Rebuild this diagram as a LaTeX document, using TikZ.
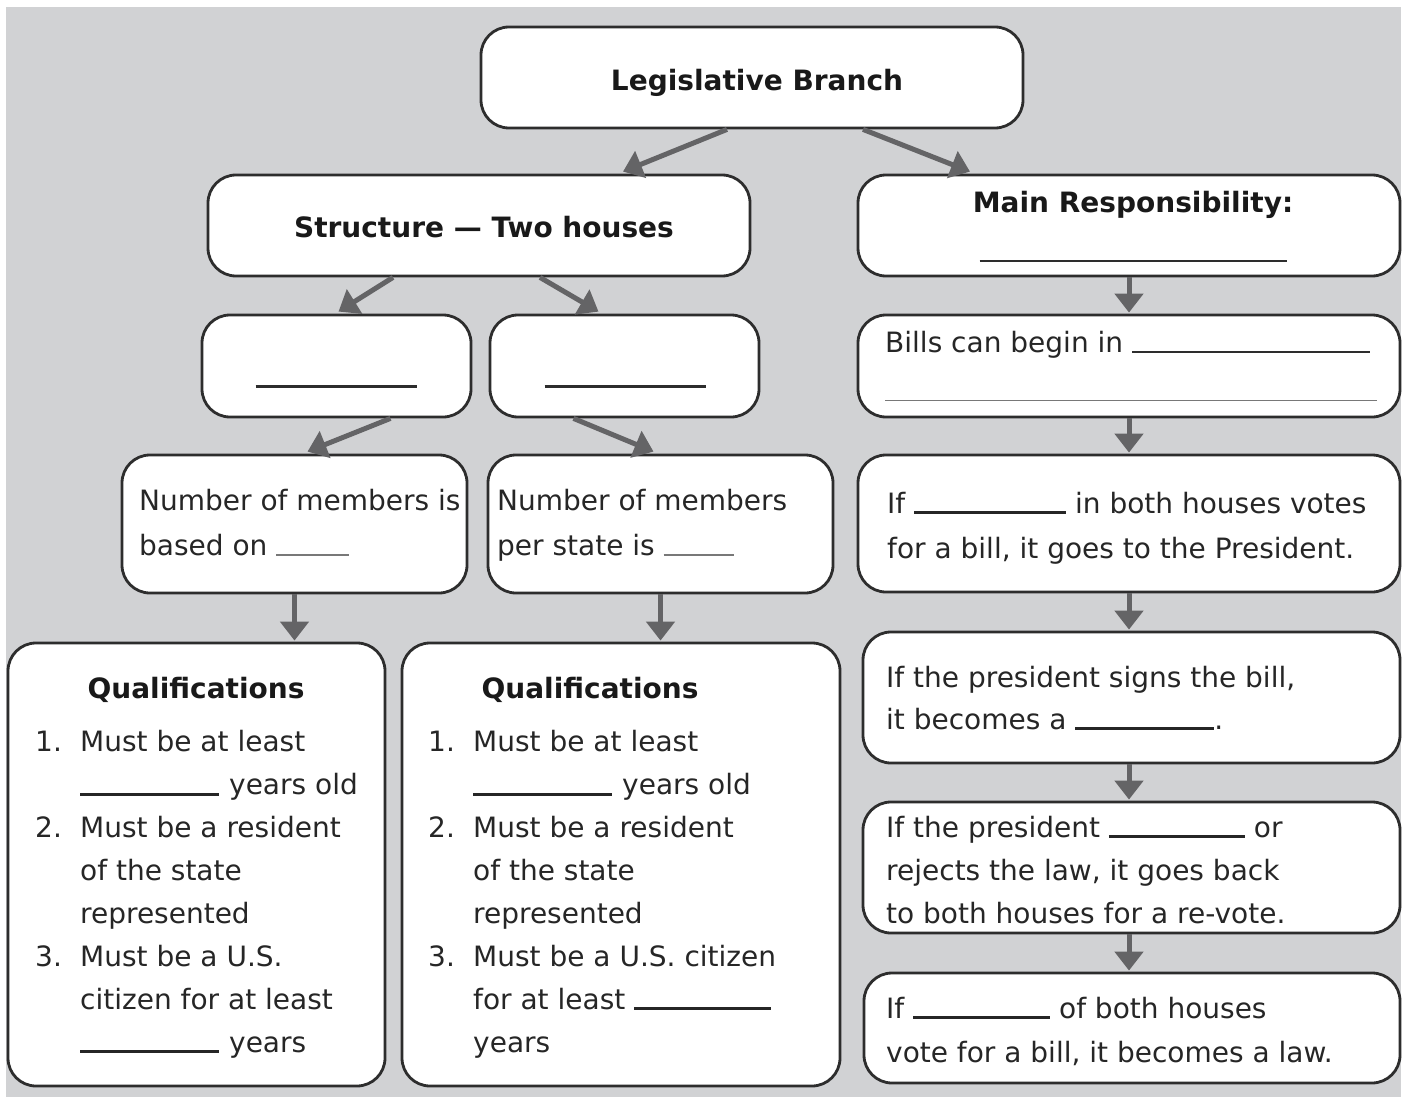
\documentclass[tikz,border=0pt]{standalone}
\usepackage{fontspec}
\setmainfont{DejaVu Sans}
\usetikzlibrary{arrows.meta}
\definecolor{bggray}{RGB}{209,210,212}
\definecolor{arrgray}{RGB}{100,100,102}
\definecolor{edgegray}{RGB}{45,45,45}
\definecolor{txtcol}{RGB}{38,38,38}
\definecolor{lightline}{RGB}{120,120,120}
\newcommand{\blank}[1]{\rule[-1pt]{#1pt}{2.8pt}}
\newcommand{\thinblank}[1]{\rule[-1pt]{#1pt}{1.8pt}}
\newcommand{\num}[1]{\makebox[45pt][l]{#1}}
\newcommand{\ind}{\hspace*{45pt}}
\begin{document}
\begin{tikzpicture}[x=1pt,y=-1pt,
  box/.style={draw=edgegray, line width=2.8pt, fill=white, rounded corners=28pt, inner sep=0pt},
  arr/.style={draw=arrgray, line width=5pt, -{Triangle[length=19pt,width=28pt]}},
  txt/.style={inner sep=0pt, anchor=base west, align=left, text=txtcol, font=\fontsize{28}{43}\selectfont},
  ttl/.style={inner sep=0pt, anchor=base, text=black!90, font=\fontsize{28}{34}\selectfont\bfseries},
  ]
\useasboundingbox (0,0) rectangle (1403,1097);
\fill[white] (0,0) rectangle (1403,1097);
\fill[bggray] (6,7) rectangle (1401,1097);

% boxes
\node[box, minimum width=542pt, minimum height=101pt] (leg) at (752,77.5) {};
\node[box, minimum width=542pt, minimum height=101pt] (struct) at (479,225.5) {};
\node[box, minimum width=542pt, minimum height=101pt] (mainr) at (1129,225.5) {};
\node[box, minimum width=269pt, minimum height=102pt] (bla) at (336.5,366) {};
\node[box, minimum width=269pt, minimum height=102pt] (blb) at (624.5,366) {};
\node[box, minimum width=542pt, minimum height=102pt] (bills) at (1129,366) {};
\node[box, minimum width=345pt, minimum height=138pt] (numa) at (294.5,524) {};
\node[box, minimum width=345pt, minimum height=138pt] (numb) at (660.5,524) {};
\node[box, minimum width=542pt, minimum height=137pt] (ifv) at (1129,523.5) {};
\node[box, minimum width=377pt, minimum height=443pt] (qa) at (196.5,864.5) {};
\node[box, minimum width=438pt, minimum height=443pt] (qb) at (621,864.5) {};
\node[box, minimum width=537pt, minimum height=131pt] (sign) at (1131.5,697.5) {};
\node[box, minimum width=537pt, minimum height=131pt] (veto) at (1131.5,867.5) {};
\node[box, minimum width=536pt, minimum height=110pt] (law) at (1132,1028) {};

% arrows
\draw[arr] ([xshift=-25pt]leg.south) -- ([xshift=144pt,yshift=2pt]struct.north);
\draw[arr] ([xshift=111pt]leg.south) -- ([xshift=-159pt,yshift=2pt]mainr.north);
\draw[arr] ([xshift=-86pt]struct.south) -- ([xshift=2pt,yshift=2pt]bla.north);
\draw[arr] ([xshift=61pt]struct.south) -- ([xshift=-26pt,yshift=2pt]blb.north);
\draw[arr] ([xshift=54pt]bla.south) -- ([xshift=13pt,yshift=2pt]numa.north);
\draw[arr] ([xshift=-51pt]blb.south) -- ([xshift=-7pt,yshift=2pt]numb.north);
\draw[arr] (numa.south) -- ([yshift=1pt]numa.south |- qa.north);
\draw[arr] (numb.south) -- ([yshift=1pt]numb.south |- qb.north);
\draw[arr] (mainr.south) -- ([yshift=1pt]bills.north);
\draw[arr] (bills.south) -- ([yshift=1pt]ifv.north);
\draw[arr] (ifv.south) -- ([yshift=1pt]ifv.south |- sign.north);
\draw[arr] (ifv.south |- sign.south) -- ([yshift=1pt]ifv.south |- veto.north);
\draw[arr] (ifv.south |- veto.south) -- ([yshift=1pt]ifv.south |- law.north);

% texts (multi-line nodes: base = baseline of the last line)
\node[ttl] (legt) at (757,91) {Legislative Branch};
\node[ttl] (structt) at (484,237) {Structure — Two houses};
\node[ttl] (mainrt) at (1133,212) {Main Responsibility:};
\node[inner sep=0pt, anchor=base] (mainrb) at (1133,261) {\color{edgegray}\thinblank{307}};

\node[inner sep=0pt, anchor=base] (blat) at (336,387) {\color{edgegray}\blank{161}};
\node[inner sep=0pt, anchor=base] (blbt) at (625,387) {\color{edgegray}\blank{161}};

\node[txt] (billst) at (885,352) {Bills can begin in \color{edgegray}\thinblank{238}};
\node[inner sep=0pt, anchor=base west] (billsl) at (885,401) {\color{lightline}\rule{492pt}{1.4pt}};

\node[txt, font=\fontsize{28}{45}\selectfont] (numat) at (139,555) {Number of members is\\based on {\color{lightline}\thinblank{73}}};
\node[txt, font=\fontsize{28}{45}\selectfont] (numbt) at (497,555) {Number of members\\per state is {\color{lightline}\thinblank{70}}};

\node[txt, font=\fontsize{28}{45}\selectfont] (ifvt) at (887,558) {If \blank{152} in both houses votes\\for a bill, it goes to the President.};
\node[txt, font=\fontsize{28}{42}\selectfont] (signt) at (886,729) {If the president signs the bill,\\it becomes a \blank{139}.};
\node[txt, font=\fontsize{28}{43}\selectfont] (vetot) at (886,923) {If the president \blank{136} or\\rejects the law, it goes back\\to both houses for a re-vote.};
\node[txt, font=\fontsize{28}{44}\selectfont] (lawt) at (886,1062) {If \blank{137} of both houses\\vote for a bill, it becomes a law.};

\node[ttl] (qat) at (196,698) {Qualifications};
\node[txt, font=\fontsize{28}{42.9}\selectfont] (qai) at (35,1052) {\num{1.}Must be at least\\
\ind\blank{139}\hspace{10pt}years old\\
\num{2.}Must be a resident\\
\ind of the state\\
\ind represented\\
\num{3.}Must be a U.S.\\
\ind citizen for at least\\
\ind\blank{139}\hspace{10pt}years};

\node[ttl] (qbt) at (590,698) {Qualifications};
\node[txt, font=\fontsize{28}{42.9}\selectfont] (qbi) at (428,1052) {\num{1.}Must be at least\\
\ind\blank{139}\hspace{10pt}years old\\
\num{2.}Must be a resident\\
\ind of the state\\
\ind represented\\
\num{3.}Must be a U.S. citizen\\
\ind for at least \blank{137}\\
\ind years};
\end{tikzpicture}
\end{document}
